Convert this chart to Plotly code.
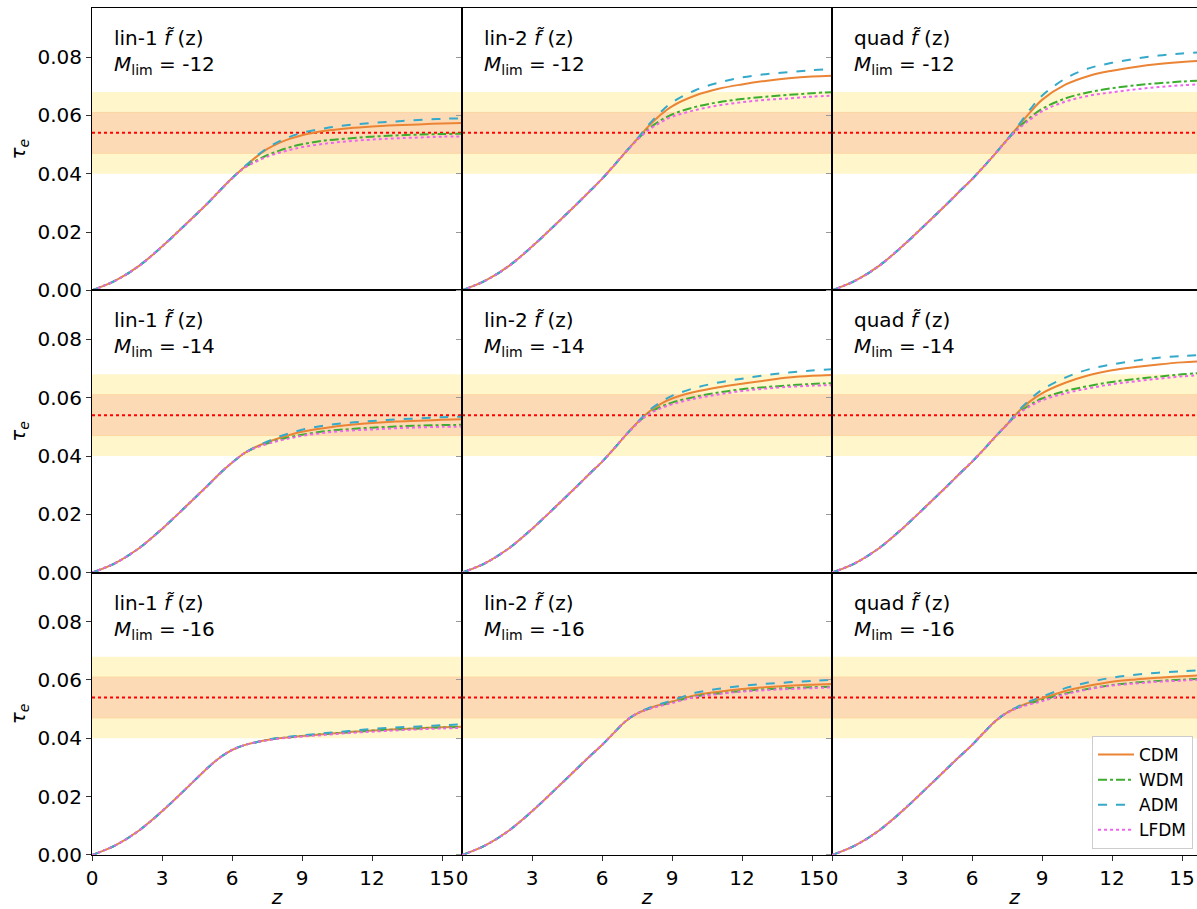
import plotly.graph_objects as go
from plotly.subplots import make_subplots

# ---------------- data ----------------
Z = [0, 1, 2, 3, 4, 5, 5.5, 6, 6.5, 7, 7.5, 8, 8.5, 9, 10, 11, 12, 13, 14, 15, 16]
TAU_LOW = [0.0, 0.0033, 0.0083, 0.0150, 0.0225, 0.0302]  # z = 0..5, common to all

MODELS = ["CDM", "WDM", "ADM", "LFDM"]
ROW_LABELS = ["-12", "-14", "-16"]
COL_LABELS = ["lin-1", "lin-2", "quad"]

# lin-1, M_lim = -12
LIN1_M12_CDM = TAU_LOW + [0.0344, 0.0384, 0.0420, 0.0455, 0.0484, 0.0505, 0.0520, 0.0532, 0.0547, 0.0556, 0.0562, 0.0566, 0.0569, 0.0572, 0.0574]
LIN1_M12_WDM = TAU_LOW + [0.0344, 0.0384, 0.0419, 0.0443, 0.0463, 0.0478, 0.0491, 0.0501, 0.0514, 0.0521, 0.0527, 0.0531, 0.0534, 0.0536, 0.0537]
LIN1_M12_ADM = TAU_LOW + [0.0344, 0.0384, 0.0421, 0.0457, 0.0487, 0.0510, 0.0527, 0.0540, 0.0556, 0.0567, 0.0574, 0.0579, 0.0584, 0.0588, 0.0590]
LIN1_M12_LFDM = TAU_LOW + [0.0344, 0.0384, 0.0418, 0.0440, 0.0458, 0.0471, 0.0482, 0.0491, 0.0503, 0.0511, 0.0517, 0.0521, 0.0524, 0.0527, 0.0528]

# lin-2, M_lim = -12
LIN2_M12_CDM = TAU_LOW + [0.0342, 0.0382, 0.0427, 0.0473, 0.0518, 0.0563, 0.0601, 0.0631, 0.0668, 0.0691, 0.0706, 0.0718, 0.0727, 0.0733, 0.0736]
LIN2_M12_WDM = TAU_LOW + [0.0342, 0.0382, 0.0427, 0.0473, 0.0516, 0.0554, 0.0582, 0.0603, 0.0629, 0.0645, 0.0656, 0.0664, 0.0670, 0.0676, 0.0680]
LIN2_M12_ADM = TAU_LOW + [0.0342, 0.0382, 0.0427, 0.0473, 0.0519, 0.0568, 0.0610, 0.0644, 0.0686, 0.0712, 0.0730, 0.0741, 0.0748, 0.0755, 0.0760]
LIN2_M12_LFDM = TAU_LOW + [0.0342, 0.0382, 0.0427, 0.0473, 0.0515, 0.0550, 0.0575, 0.0595, 0.0618, 0.0634, 0.0645, 0.0653, 0.0658, 0.0664, 0.0668]

# quad, M_lim = -12
QUAD_M12_CDM = TAU_LOW + [0.0342, 0.0381, 0.0424, 0.0469, 0.0516, 0.0564, 0.0611, 0.0653, 0.0705, 0.0735, 0.0753, 0.0766, 0.0776, 0.0783, 0.0788]
QUAD_M12_WDM = TAU_LOW + [0.0342, 0.0381, 0.0424, 0.0469, 0.0515, 0.0558, 0.0593, 0.0622, 0.0658, 0.0679, 0.0693, 0.0703, 0.0710, 0.0716, 0.0720]
QUAD_M12_ADM = TAU_LOW + [0.0342, 0.0381, 0.0424, 0.0469, 0.0517, 0.0567, 0.0621, 0.0667, 0.0726, 0.0761, 0.0780, 0.0794, 0.0805, 0.0812, 0.0817]
QUAD_M12_LFDM = TAU_LOW + [0.0342, 0.0381, 0.0424, 0.0469, 0.0514, 0.0554, 0.0586, 0.0614, 0.0647, 0.0667, 0.0679, 0.0689, 0.0697, 0.0703, 0.0707]

# lin-1, M_lim = -14
LIN1_M14_CDM = TAU_LOW + [0.0342, 0.0377, 0.0408, 0.0430, 0.0447, 0.0461, 0.0473, 0.0483, 0.0496, 0.0506, 0.0513, 0.0518, 0.0521, 0.0524, 0.0526]
LIN1_M14_WDM = TAU_LOW + [0.0342, 0.0377, 0.0408, 0.0429, 0.0443, 0.0455, 0.0465, 0.0473, 0.0485, 0.0492, 0.0497, 0.0501, 0.0504, 0.0506, 0.0507]
LIN1_M14_ADM = TAU_LOW + [0.0342, 0.0377, 0.0408, 0.0431, 0.0449, 0.0466, 0.0479, 0.0490, 0.0505, 0.0514, 0.0520, 0.0525, 0.0529, 0.0533, 0.0535]
LIN1_M14_LFDM = TAU_LOW + [0.0342, 0.0377, 0.0408, 0.0428, 0.0441, 0.0452, 0.0461, 0.0469, 0.0480, 0.0487, 0.0491, 0.0495, 0.0498, 0.0500, 0.0501]

# lin-2, M_lim = -14
LIN2_M14_CDM = TAU_LOW + [0.0342, 0.0380, 0.0424, 0.0470, 0.0513, 0.0551, 0.0578, 0.0597, 0.0620, 0.0636, 0.0648, 0.0659, 0.0669, 0.0675, 0.0678]
LIN2_M14_WDM = TAU_LOW + [0.0342, 0.0380, 0.0424, 0.0470, 0.0512, 0.0546, 0.0568, 0.0583, 0.0603, 0.0618, 0.0629, 0.0636, 0.0642, 0.0647, 0.0650]
LIN2_M14_ADM = TAU_LOW + [0.0342, 0.0380, 0.0424, 0.0470, 0.0514, 0.0555, 0.0584, 0.0606, 0.0634, 0.0652, 0.0665, 0.0677, 0.0686, 0.0693, 0.0698]
LIN2_M14_LFDM = TAU_LOW + [0.0342, 0.0380, 0.0424, 0.0470, 0.0511, 0.0543, 0.0563, 0.0577, 0.0597, 0.0611, 0.0623, 0.0631, 0.0637, 0.0641, 0.0643]

# quad, M_lim = -14
QUAD_M14_CDM = TAU_LOW + [0.0342, 0.0380, 0.0422, 0.0466, 0.0508, 0.0553, 0.0588, 0.0615, 0.0651, 0.0677, 0.0694, 0.0705, 0.0714, 0.0721, 0.0725]
QUAD_M14_WDM = TAU_LOW + [0.0342, 0.0380, 0.0422, 0.0466, 0.0508, 0.0548, 0.0576, 0.0597, 0.0623, 0.0640, 0.0654, 0.0664, 0.0672, 0.0680, 0.0686]
QUAD_M14_ADM = TAU_LOW + [0.0342, 0.0380, 0.0422, 0.0466, 0.0509, 0.0556, 0.0595, 0.0627, 0.0669, 0.0697, 0.0714, 0.0727, 0.0737, 0.0743, 0.0747]
QUAD_M14_LFDM = TAU_LOW + [0.0342, 0.0380, 0.0422, 0.0466, 0.0507, 0.0545, 0.0571, 0.0591, 0.0615, 0.0632, 0.0646, 0.0656, 0.0665, 0.0673, 0.0678]

# lin-1, M_lim = -16
LIN1_M16_CDM = TAU_LOW + [0.0335, 0.0360, 0.0376, 0.0386, 0.0394, 0.0400, 0.0404, 0.0408, 0.0415, 0.0421, 0.0427, 0.0431, 0.0435, 0.0438, 0.0440]
LIN1_M16_WDM = TAU_LOW + [0.0335, 0.0360, 0.0376, 0.0386, 0.0394, 0.0400, 0.0404, 0.0408, 0.0415, 0.0421, 0.0426, 0.0430, 0.0434, 0.0437, 0.0439]
LIN1_M16_ADM = TAU_LOW + [0.0335, 0.0360, 0.0376, 0.0386, 0.0395, 0.0401, 0.0406, 0.0410, 0.0418, 0.0425, 0.0432, 0.0437, 0.0441, 0.0445, 0.0448]
LIN1_M16_LFDM = TAU_LOW + [0.0335, 0.0360, 0.0376, 0.0386, 0.0393, 0.0399, 0.0403, 0.0406, 0.0412, 0.0418, 0.0423, 0.0427, 0.0431, 0.0434, 0.0436]

# lin-2, M_lim = -16
LIN2_M16_CDM = TAU_LOW + [0.0340, 0.0377, 0.0418, 0.0458, 0.0485, 0.0502, 0.0515, 0.0526, 0.0548, 0.0560, 0.0569, 0.0575, 0.0580, 0.0584, 0.0587]
LIN2_M16_WDM = TAU_LOW + [0.0340, 0.0377, 0.0418, 0.0458, 0.0485, 0.0501, 0.0513, 0.0523, 0.0544, 0.0554, 0.0562, 0.0568, 0.0572, 0.0575, 0.0578]
LIN2_M16_ADM = TAU_LOW + [0.0340, 0.0377, 0.0418, 0.0458, 0.0486, 0.0504, 0.0518, 0.0530, 0.0556, 0.0570, 0.0580, 0.0587, 0.0592, 0.0597, 0.0601]
LIN2_M16_LFDM = TAU_LOW + [0.0340, 0.0377, 0.0418, 0.0458, 0.0485, 0.0500, 0.0511, 0.0521, 0.0542, 0.0552, 0.0560, 0.0565, 0.0569, 0.0572, 0.0575]

# quad, M_lim = -16
QUAD_M16_CDM = TAU_LOW + [0.0340, 0.0377, 0.0419, 0.0459, 0.0488, 0.0508, 0.0524, 0.0537, 0.0562, 0.0580, 0.0594, 0.0602, 0.0608, 0.0613, 0.0617]
QUAD_M16_WDM = TAU_LOW + [0.0340, 0.0377, 0.0419, 0.0459, 0.0488, 0.0507, 0.0520, 0.0531, 0.0554, 0.0570, 0.0583, 0.0591, 0.0597, 0.0601, 0.0605]
QUAD_M16_ADM = TAU_LOW + [0.0340, 0.0377, 0.0419, 0.0459, 0.0489, 0.0510, 0.0528, 0.0543, 0.0572, 0.0592, 0.0608, 0.0618, 0.0625, 0.0630, 0.0634]
QUAD_M16_LFDM = TAU_LOW + [0.0340, 0.0377, 0.0419, 0.0459, 0.0487, 0.0505, 0.0517, 0.0527, 0.0551, 0.0568, 0.0581, 0.0588, 0.0594, 0.0598, 0.0602]

PANELS = [
    [[LIN1_M12_CDM, LIN1_M12_WDM, LIN1_M12_ADM, LIN1_M12_LFDM],
     [LIN2_M12_CDM, LIN2_M12_WDM, LIN2_M12_ADM, LIN2_M12_LFDM],
     [QUAD_M12_CDM, QUAD_M12_WDM, QUAD_M12_ADM, QUAD_M12_LFDM]],
    [[LIN1_M14_CDM, LIN1_M14_WDM, LIN1_M14_ADM, LIN1_M14_LFDM],
     [LIN2_M14_CDM, LIN2_M14_WDM, LIN2_M14_ADM, LIN2_M14_LFDM],
     [QUAD_M14_CDM, QUAD_M14_WDM, QUAD_M14_ADM, QUAD_M14_LFDM]],
    [[LIN1_M16_CDM, LIN1_M16_WDM, LIN1_M16_ADM, LIN1_M16_LFDM],
     [LIN2_M16_CDM, LIN2_M16_WDM, LIN2_M16_ADM, LIN2_M16_LFDM],
     [QUAD_M16_CDM, QUAD_M16_WDM, QUAD_M16_ADM, QUAD_M16_LFDM]],
]

TAU_PLANCK = 0.054
BAND_1SIG = [0.047, 0.061]
BAND_2SIG = [0.040, 0.068]

X_TICKS = [0, 3, 6, 9, 12, 15]
Y_TICKS = [0.00, 0.02, 0.04, 0.06, 0.08]

# ---------------- styles ----------------
COLORS = {"CDM": "#eb8434", "WDM": "#3cad2f", "ADM": "#35a9c9", "LFDM": "#ee66ee"}
DASHES = {"CDM": "solid", "WDM": "dashdot", "ADM": "dash", "LFDM": "dot"}
FONT = "DejaVu Sans"

W, H = 1197, 909
ML, MR, MT, MB = 92, 0, 8, 54
COL_PX = [370, 370, 365]
PX_PER_Z = 70.0 / 3.0
Y_MAX = 0.0968

fig = make_subplots(rows=3, cols=3, column_widths=COL_PX,
                    horizontal_spacing=0, vertical_spacing=0)

for r in range(3):
    for c in range(3):
        for k, m in enumerate(MODELS):
            fig.add_trace(go.Scatter(
                x=Z, y=PANELS[r][c][k], mode="lines", name=m,
                line=dict(color=COLORS[m], dash=DASHES[m], width=2, shape="spline", smoothing=1.0),
                showlegend=(r == 0 and c == 0), legendgroup=m, hoverinfo="skip"),
                row=r + 1, col=c + 1)

        idx = r * 3 + c + 1
        xs = "" if idx == 1 else str(idx)
        xdom = f"x{xs} domain"
        yref = f"y{xs}"
        # 2-sigma band, 1-sigma band, Planck value
        fig.add_shape(type="rect", xref=xdom, yref=yref, x0=0, x1=1,
                      y0=BAND_2SIG[0], y1=BAND_2SIG[1], fillcolor="#fff6cc",
                      line=dict(width=0), layer="below")
        fig.add_shape(type="rect", xref=xdom, yref=yref, x0=0, x1=1,
                      y0=BAND_1SIG[0], y1=BAND_1SIG[1], fillcolor="#fddab6",
                      line=dict(width=1, color="#fdd6a0"), layer="below")
        fig.add_shape(type="line", xref=xdom, yref=yref, x0=0, x1=1,
                      y0=TAU_PLANCK, y1=TAU_PLANCK,
                      line=dict(color="#ff0000", width=2, dash="dot"), layer="below")

        fig.add_annotation(
            xref=xdom, yref=f"y{xs} domain",
            x=20.0 / COL_PX[c], y=1 - 16.0 / 282.0, xanchor="left", yanchor="top",
            align="left", showarrow=False,
            text=f"{COL_LABELS[c]} <i>f\u0303</i> (z)<br><i>M</i><sub>lim</sub> = {ROW_LABELS[r]}",
            font=dict(family=FONT, size=20, color="black"))

        # axes
        xmax = COL_PX[c] / PX_PER_Z
        fig.update_xaxes(row=r + 1, col=c + 1, range=[0, xmax],
                         showgrid=False, zeroline=False,
                         showline=True, linecolor="black", linewidth=1, mirror=True,
                         tickmode="array", tickvals=X_TICKS,
                         ticks="outside" if r == 2 else "", ticklen=5, tickcolor="#333",
                         showticklabels=(r == 2),
                         tickfont=dict(family=FONT, size=20, color="black"),
                         title=dict(text="<i>z</i>", font=dict(family=FONT, size=20, color="black"),
                                    standoff=2) if r == 2 else None)
        fig.update_yaxes(row=r + 1, col=c + 1, range=[0, Y_MAX],
                         showgrid=False, zeroline=False,
                         showline=True, linecolor="black", linewidth=1,
                         mirror=(c < 2),
                         tickmode="array", tickvals=Y_TICKS, tickformat=".2f",
                         ticks="outside", ticklen=5,
                         tickcolor="#333" if c == 0 else "#999",
                         showticklabels=(c == 0),
                         tickfont=dict(family=FONT, size=20, color="black"),
                         title=dict(text="<i>\u03c4</i><sub><i>e</i></sub>",
                                    font=dict(family=FONT, size=20, color="black"),
                                    standoff=6) if c == 0 else None)

fig.update_layout(
    width=W, height=H,
    margin=dict(l=ML, r=MR, t=MT, b=MB),
    plot_bgcolor="white", paper_bgcolor="white",
    font=dict(family=FONT, size=20, color="black"),
    legend=dict(x=(1193 - ML) / (W - ML), y=(855 - 849) / (909 - MT - MB),
                xanchor="right", yanchor="bottom",
                bgcolor="white", bordercolor="#cccccc", borderwidth=1,
                font=dict(family=FONT, size=17, color="black"),
                tracegroupgap=0, itemwidth=36),
)

fig.write_html(
    "out.html",
    config={"displayModeBar": False},
    post_script="document.body.style.margin='0';document.body.style.overflow='hidden';",
)
